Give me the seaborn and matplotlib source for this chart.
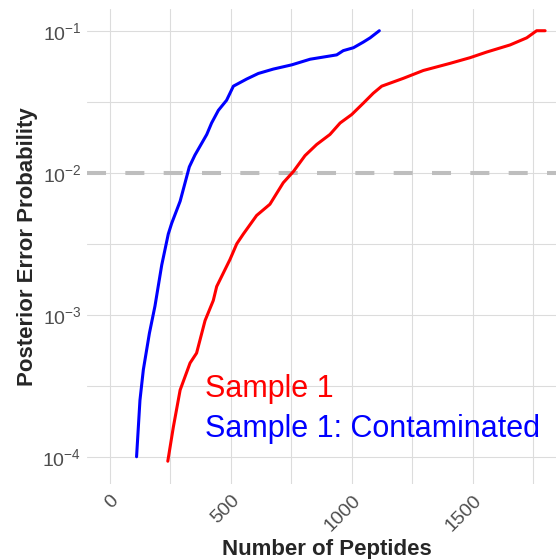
import numpy as np
import pandas as pd
import seaborn as sns
import matplotlib
matplotlib.use('Agg')
import matplotlib.pyplot as plt
from matplotlib.ticker import FixedLocator, LogFormatterSciNotation, NullFormatter

# values
contam_peptides = [111, 125, 139, 164, 187, 215, 242, 256, 291, 329, 352, 401, 421, 449,
                   483, 511, 566, 614, 676, 752, 828, 938, 965, 1007, 1048, 1076, 1114]
contam_pep = [1.0e-4, 2.5e-4, 4.1e-4, 7.4e-4, 1.15e-3, 2.24e-3, 3.7e-3, 4.4e-3, 6.3e-3,
              1.1e-2, 1.33e-2, 1.86e-2, 2.24e-2, 2.75e-2, 3.24e-2, 4.07e-2, 4.57e-2,
              5.0e-2, 5.37e-2, 5.75e-2, 6.3e-2, 6.76e-2, 7.24e-2, 7.59e-2, 8.32e-2,
              8.91e-2, 1.0e-1]

sample_peptides = [240, 263, 291, 332, 359, 394, 428, 442, 497, 525, 552, 607, 662, 717,
                   759, 807, 855, 910, 952, 1000, 1048, 1089, 1124, 1213, 1296, 1406,
                   1489, 1558, 1654, 1723, 1764, 1799]
sample_pep = [9.3e-5, 1.62e-4, 2.95e-4, 4.57e-4, 5.37e-4, 9.1e-4, 1.26e-3, 1.58e-3,
              2.45e-3, 3.16e-3, 3.7e-3, 5.0e-3, 6.0e-3, 8.5e-3, 1.02e-2, 1.32e-2,
              1.58e-2, 1.86e-2, 2.24e-2, 2.57e-2, 3.09e-2, 3.63e-2, 4.07e-2, 4.62e-2,
              5.25e-2, 5.89e-2, 6.46e-2, 7.08e-2, 7.94e-2, 8.91e-2, 1.0e-1, 1.0e-1]

series_names = ['Sample 1', 'Sample 1: Contaminated']
series_colors = ['#ff0000', '#0000ff']
pep_cutoff = 0.01

x_major = [0, 500, 1000, 1500]
x_minor = [250, 750, 1250, 1750]
y_major = [1e-4, 1e-3, 1e-2, 1e-1]
y_minor = [10 ** -3.5, 10 ** -2.5, 10 ** -1.5]

data = pd.concat([
    pd.DataFrame({'peptides': sample_peptides, 'pep': sample_pep, 'sample': series_names[0]}),
    pd.DataFrame({'peptides': contam_peptides, 'pep': contam_pep, 'sample': series_names[1]}),
])

sns.set_theme(style='whitegrid')
plt.rcParams['font.family'] = ['Liberation Sans', 'DejaVu Sans']
plt.rcParams['mathtext.fontset'] = 'custom'
plt.rcParams['mathtext.rm'] = 'Liberation Sans'
plt.rcParams['mathtext.it'] = 'Liberation Sans:italic'
plt.rcParams['lines.scale_dashes'] = False

fig = plt.figure(figsize=(5.56, 5.59), dpi=100)
ax = fig.add_axes([87 / 556, 1 - 484 / 559, 469 / 556, 475 / 559])

# cutoff line
ax.axhline(pep_cutoff, color='#bebebe', lw=2.9, dashes=(13.7, 13.9), zorder=1.5)

sns.lineplot(data=data, x='peptides', y='pep', hue='sample', hue_order=series_names,
             palette=dict(zip(series_names, series_colors)), sort=False, estimator=None,
             lw=2.2, legend=False, ax=ax, zorder=3)

ax.set_yscale('log')
ax.set_xlim(-93.8, 1844)
ax.set_ylim(10 ** -4.192, 10 ** -0.847)

ax.xaxis.set_major_locator(FixedLocator(x_major))
ax.xaxis.set_minor_locator(FixedLocator(x_minor))
ax.yaxis.set_major_locator(FixedLocator(y_major))
ax.yaxis.set_minor_locator(FixedLocator(y_minor))
ax.yaxis.set_major_formatter(LogFormatterSciNotation())
ax.yaxis.set_minor_formatter(NullFormatter())

ax.grid(which='both', color='#dcdcdc', lw=0.8)
for s in ax.spines.values():
    s.set_visible(False)

ax.tick_params(which='major', length=2.5, width=0.8, color='#333333', pad=1.5,
               labelsize=14, labelcolor='#4d4d4d')
ax.tick_params(which='minor', length=0)
ax.tick_params(axis='x', pad=3)
for lab in ax.get_xticklabels():
    lab.set_rotation(45)
    lab.set_ha('right')
    lab.set_rotation_mode('anchor')

ax.set_xlabel('Number of Peptides', fontsize=16, fontweight='bold', va='baseline')
ax.set_ylabel('Posterior Error Probability', fontsize=16, fontweight='bold', va='center')
ax.xaxis.set_label_coords((327 - 87) / 469, (484 - 555) / 475)
ax.yaxis.set_label_coords((28 - 87) / 469, 0.5)

# labels in place of a legend
ax.text((205 - 87) / 469, (484 - 396.7) / 475, series_names[0], color=series_colors[0],
        fontsize=22, transform=ax.transAxes, va='baseline', ha='left')
ax.text((205 - 87) / 469, (484 - 437) / 475, series_names[1], color=series_colors[1],
        fontsize=22, transform=ax.transAxes, va='baseline', ha='left')

plt.savefig('out.png', dpi=100)
